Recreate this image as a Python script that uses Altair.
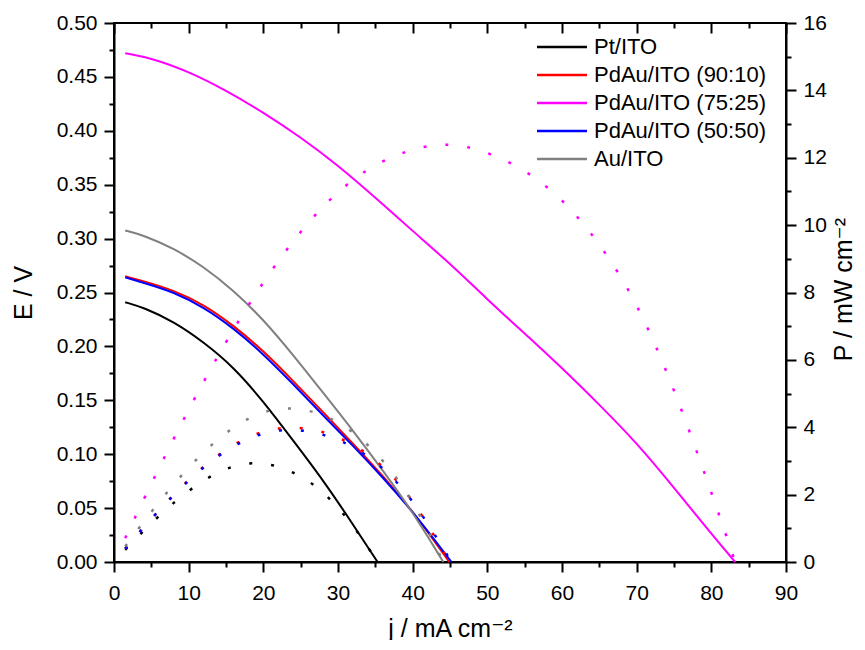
import altair as alt
import pandas as pd

FONT = "Liberation Sans, Arial, Helvetica, DejaVu Sans, sans-serif"

series_names = ["Pt/ITO", "PdAu/ITO (90:10)", "PdAu/ITO (75:25)", "PdAu/ITO (50:50)", "Au/ITO"]
series_colors = ["#000000", "#ff0000", "#ff00ff", "#0000ff", "#808080"]

# current density j (mA cm-2) and cell voltage E (V)
j_pt = [1.5, 4, 8, 12, 16, 20, 24, 28, 32, 35.3]
E_pt = [0.241, 0.236, 0.223, 0.204, 0.181, 0.149, 0.1125, 0.076, 0.035, 0.0]

j_9010 = [1.5, 4, 8, 12, 16, 20, 24, 28, 32, 36, 40, 44.9]
E_9010 = [0.265, 0.2605, 0.252, 0.239, 0.2195, 0.196, 0.168, 0.139, 0.110, 0.080, 0.0475, 0.0]

j_7525 = [1.5, 5, 10, 15, 20, 25, 30, 35, 40, 45, 50, 55, 60, 65, 70, 75, 80, 83.2]
E_7525 = [0.472, 0.4675, 0.455, 0.4375, 0.417, 0.394, 0.368, 0.338, 0.307, 0.277, 0.2435,
          0.212, 0.180, 0.146, 0.1106, 0.069, 0.026, 0.0]

j_5050 = [1.5, 4, 8, 12, 16, 20, 24, 28, 32, 36, 40, 45.2]
E_5050 = [0.264, 0.259, 0.2505, 0.2365, 0.217, 0.193, 0.165, 0.136, 0.108, 0.0785, 0.047, 0.0]

j_au = [1.5, 4, 8, 12, 16, 20, 24, 28, 32, 36, 40, 44.1]
E_au = [0.3075, 0.303, 0.291, 0.274, 0.252, 0.225, 0.192, 0.157, 0.122, 0.085, 0.0465, 0.0]

x_major = [0, 10, 20, 30, 40, 50, 60, 70, 80, 90]
x_minor = [5, 15, 25, 35, 45, 55, 65, 75, 85]
e_major = [0.0, 0.05, 0.10, 0.15, 0.20, 0.25, 0.30, 0.35, 0.40, 0.45, 0.50]
e_minor = [0.025, 0.075, 0.125, 0.175, 0.225, 0.275, 0.325, 0.375, 0.425, 0.475]
p_major = [0, 2, 4, 6, 8, 10, 12, 14, 16]
p_minor = [1, 3, 5, 7, 9, 11, 13, 15]

all_j = [j_pt, j_9010, j_7525, j_5050, j_au]
all_E = [E_pt, E_9010, E_7525, E_5050, E_au]

rows = []
for k, (name, js, es) in enumerate(zip(series_names, all_j, all_E)):
    for jv, ev in zip(js, es):
        rows.append({"series": name, "k": k, "j": jv, "E": ev})
df = pd.DataFrame(rows)

base = alt.Chart(df)

x_scale = alt.Scale(domain=[0, 90], nice=False, zero=False)
e_scale = alt.Scale(domain=[0, 0.5], nice=False)
p_scale = alt.Scale(domain=[0, 16], nice=False)
color_scale = alt.Scale(domain=series_names, range=series_colors)

lines = base.mark_line(strokeWidth=2, interpolate="basis").encode(
    x=alt.X("j:Q", scale=x_scale,
            axis=alt.Axis(orient="bottom", values=x_major, format="d", tickSize=10,
                          labelPadding=10, title="j / mA cm\u207b\u00b2",
                          titleX=336, titleY=74, titleAlign="center",
                          titleBaseline="alphabetic", titleAngle=0)),
    y=alt.Y("E:Q", scale=e_scale,
            axis=alt.Axis(orient="left", values=e_major, format=".2f", tickSize=10,
                          labelPadding=7, title="E / V", titleX=-83, titleY=269.5,
                          titleAlign="center", titleBaseline="alphabetic", titleAngle=270)),
    color=alt.Color("series:N", scale=color_scale,
                    legend=alt.Legend(orient="none", legendX=437, legendY=13, title=None,
                                      symbolType="M-5,0H5", symbolSize=100,
                                      symbolStrokeWidth=2.5, symbolFillColor="transparent",
                                      labelFont=FONT, labelFontSize=22, labelColor="#000",
                                      labelOffset=21, labelLimit=400, rowPadding=6,
                                      padding=0)),
)

power = base.transform_calculate(P="datum.j * datum.E").mark_line(
    strokeWidth=2.5, strokeDash=[3, 19], interpolate="basis"
).encode(
    x=alt.X("j:Q", scale=x_scale,
            axis=alt.Axis(orient="top", values=x_major, tickSize=10, offset=-10,
                          labels=False, domain=False, title=None)),
    y=alt.Y("P:Q", scale=p_scale,
            axis=alt.Axis(orient="right", values=p_major, format="d", tickSize=10,
                          labelPadding=7, title="P / mW cm\u207b\u00b2", titleX=65,
                          titleY=266, titleAlign="center", titleBaseline="alphabetic",
                          titleAngle=270)),
    color=alt.Color("series:N", scale=color_scale, legend=None),
)

minor_e = base.mark_line(opacity=0).encode(
    x=alt.X("j:Q", scale=x_scale,
            axis=alt.Axis(orient="bottom", values=x_minor, tickSize=5, labels=False,
                          domain=False, title=None)),
    y=alt.Y("E:Q", scale=e_scale,
            axis=alt.Axis(orient="left", values=e_minor, tickSize=5, labels=False,
                          domain=False, title=None)),
    detail="series:N",
)

minor_p = base.transform_calculate(P="datum.j * datum.E").mark_line(opacity=0).encode(
    x=alt.X("j:Q", scale=x_scale,
            axis=alt.Axis(orient="top", values=x_minor, tickSize=5, offset=-5,
                          labels=False, domain=False, title=None)),
    y=alt.Y("P:Q", scale=p_scale,
            axis=alt.Axis(orient="right", values=p_minor, tickSize=5, labels=False,
                          domain=False, title=None)),
    detail="series:N",
)

chart = (
    alt.layer(lines, power, minor_e, minor_p)
    .resolve_scale(y="independent")
    .resolve_axis(x="independent", y="independent")
    .properties(width=672, height=539,
                autosize=alt.AutoSizeParams(type="none"),
                padding={"left": 106, "top": 15, "right": 70, "bottom": 78})
    .configure_view(stroke="#000000", strokeWidth=2)
    .configure_axis(labelFont=FONT, labelFontSize=21, labelColor="#000000",
                    titleFont=FONT, titleFontSize=25, titleFontWeight="normal",
                    titleColor="#000000", domainColor="#000000", domainWidth=2,
                    tickColor="#000000", tickWidth=2, grid=False, labelFlush=False,
                    labelOverlap=False)
)

chart.save("out.html", embed_options={"renderer": "svg", "actions": False})
